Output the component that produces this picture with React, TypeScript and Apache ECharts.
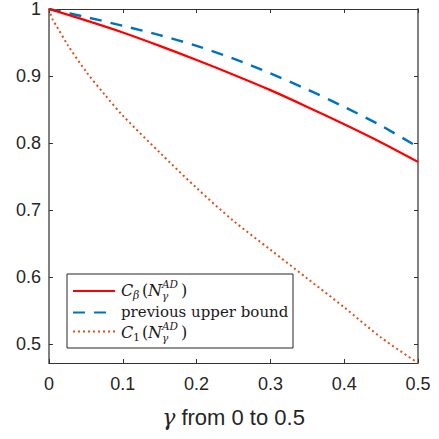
import React, { useEffect, useRef } from "react";
import * as echarts from "echarts";

const gammaRed = [0, 0.05, 0.1, 0.15, 0.2, 0.25, 0.3, 0.35, 0.4, 0.45, 0.5];
const redValues = [1, 0.983, 0.965, 0.945, 0.924, 0.902, 0.879, 0.854, 0.828, 0.801, 0.772];

const gammaBlue = [0, 0.05, 0.1, 0.15, 0.2, 0.25, 0.3, 0.35, 0.4, 0.45, 0.5];
const blueValues = [1, 0.988, 0.975, 0.961, 0.945, 0.926, 0.904, 0.88, 0.854, 0.826, 0.794];

const gammaOrange = [0, 0.005, 0.01, 0.025, 0.05, 0.075, 0.1, 0.15, 0.2, 0.25, 0.3, 0.35, 0.4, 0.45, 0.5];
const orangeValues = [1, 0.984, 0.975, 0.947, 0.907, 0.873, 0.841, 0.786, 0.733, 0.684, 0.641, 0.598, 0.555, 0.51, 0.472];

const xTicks = [0, 0.1, 0.2, 0.3, 0.4, 0.5];
const yTicks = [0.5, 0.6, 0.7, 0.8, 0.9, 1];

const seriesNames = ["Cbeta", "previous upper bound", "C1"];

const RED = "#ff0000";
const BLUE = "#0072bd";
const ORANGE = "#d95319";
const SANS = "'Liberation Sans', Arial, sans-serif";
const SERIF = "'DejaVu Serif', serif";

function zip(xs: number[], ys: number[]) {
  return xs.map((x, i) => [x, ys[i]]);
}

function mathLabel(x: number, cy: number, sub: string, subItalic: boolean) {
  const base = { fill: "#1a1a1a", fontFamily: SERIF } as any;
  const z = 12;
  return [
    { type: "text", z, x: x, y: cy, style: { ...base, text: "C", fontSize: 16, fontStyle: "italic", verticalAlign: "middle" } },
    { type: "text", z, x: x + 12, y: cy + 5, style: { ...base, text: sub, fontSize: 11, fontStyle: subItalic ? "italic" : "normal", verticalAlign: "middle" } },
    { type: "text", z, x: x + 21, y: cy, style: { ...base, text: "(", fontSize: 16, verticalAlign: "middle" } },
    { type: "text", z, x: x + 27, y: cy, style: { ...base, text: "N", fontSize: 16, fontStyle: "italic", verticalAlign: "middle" } },
    { type: "text", z, x: x + 41, y: cy - 6, style: { ...base, text: "AD", fontSize: 10.5, fontStyle: "italic", verticalAlign: "middle" } },
    { type: "text", z, x: x + 41, y: cy + 6, style: { ...base, text: "γ", fontSize: 10.5, fontStyle: "italic", verticalAlign: "middle" } },
    { type: "text", z, x: x + 60, y: cy, style: { ...base, text: ")", fontSize: 16, verticalAlign: "middle" } },
  ];
}

export default function App() {
  const ref = useRef<HTMLDivElement>(null);
  useEffect(() => {
    document.body.style.margin = "0";
    if (!ref.current) return;
    const chart = echarts.init(ref.current, null, { renderer: "svg" });
    const fmt = (v: number) => String(+Number(v).toFixed(1));
    const legendX = 67, legendY = 274;
    const option: any = {
      animation: false,
      backgroundColor: "#ffffff",
      grid: { left: 49, right: 21, top: 8, bottom: 76, containLabel: false },
      xAxis: [
        {
          type: "value", min: 0, max: 0.5, interval: 0.1, position: "bottom",
          axisLine: { show: true, onZero: false, lineStyle: { color: "#333333", width: 1 } },
          axisTick: { show: true, inside: true, length: 4, lineStyle: { color: "#333333" } },
          axisLabel: { show: true, formatter: fmt, color: "#262626", fontSize: 18, fontFamily: SANS, margin: 12 },
          splitLine: { show: false },
          name: "{g|γ}{t| from 0 to 0.5}",
          nameLocation: "middle",
          nameGap: 43,
          nameTextStyle: {
            rich: {
              g: { fontFamily: SERIF, fontStyle: "italic", fontSize: 22, color: "#262626" },
              t: { fontFamily: SANS, fontSize: 22, color: "#262626" },
            },
          },
        },
        {
          type: "value", min: 0, max: 0.5, interval: 0.1, position: "top",
          axisLine: { show: true, onZero: false, lineStyle: { color: "#333333", width: 1 } },
          axisTick: { show: true, inside: true, length: 4, lineStyle: { color: "#333333" } },
          axisLabel: { show: false },
          splitLine: { show: false },
        },
      ],
      yAxis: [
        {
          type: "value", min: 0.472, max: 1, position: "left",
          axisLine: { show: true, onZero: false, lineStyle: { color: "#808080", width: 2 } },
          axisTick: { show: true, inside: true, length: 4, customValues: yTicks, lineStyle: { color: "#333333" } },
          axisLabel: { show: true, customValues: yTicks, formatter: fmt, color: "#262626", fontSize: 18, fontFamily: SANS, margin: 8 },
          splitLine: { show: false },
        },
        {
          type: "value", min: 0.472, max: 1, position: "right",
          axisLine: { show: true, onZero: false, lineStyle: { color: "#808080", width: 2 } },
          axisTick: { show: true, inside: true, length: 4, customValues: yTicks, lineStyle: { color: "#333333" } },
          axisLabel: { show: false },
          splitLine: { show: false },
        },
      ],
      series: [
        {
          name: seriesNames[2], type: "line", data: zip(gammaOrange, orangeValues), smooth: 0.3, showSymbol: false,
          lineStyle: { color: ORANGE, width: 2, type: [2, 3] }, z: 2,
        },
        {
          name: seriesNames[1], type: "line", data: zip(gammaBlue, blueValues), smooth: 0.3, showSymbol: false,
          lineStyle: { color: BLUE, width: 2.4, type: [12, 9] }, z: 3,
        },
        {
          name: seriesNames[0], type: "line", data: zip(gammaRed, redValues), smooth: 0.3, showSymbol: false,
          lineStyle: { color: RED, width: 2.2 }, z: 4,
        },
      ],
      graphic: [
        {
          type: "rect", shape: { x: legendX, y: legendY, width: 226, height: 74 },
          style: { fill: "#ffffff", stroke: "#262626", lineWidth: 1 }, z: 10,
        },
        { type: "line", z: 12, shape: { x1: 73, y1: 291, x2: 115, y2: 291 }, style: { stroke: RED, lineWidth: 2 } },
        { type: "line", z: 12, shape: { x1: 73, y1: 312.5, x2: 115, y2: 312.5 }, style: { stroke: BLUE, lineWidth: 2, lineDash: [12, 9] } },
        { type: "line", z: 12, shape: { x1: 73, y1: 331.5, x2: 115, y2: 331.5 }, style: { stroke: ORANGE, lineWidth: 2, lineDash: [2, 3] } },
        ...mathLabel(121, 290, "β", true),
        { type: "text", z: 12, x: 121, y: 312, style: { text: "previous upper bound", fill: "#1a1a1a", fontFamily: SERIF, fontSize: 15, verticalAlign: "middle" } },
        ...mathLabel(121, 332, "1", false),
      ],
    };
    chart.setOption(option);
    return () => chart.dispose();
  }, []);
  return <div ref={ref} style={{ width: 439, height: 439 }} />;
}
